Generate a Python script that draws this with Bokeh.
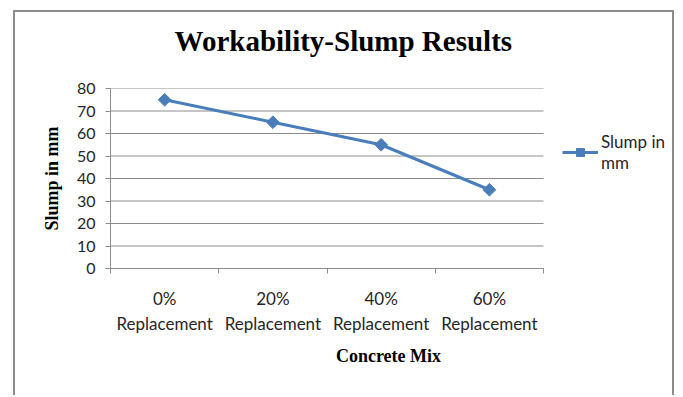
import math
from bokeh.plotting import figure
from bokeh.models import Range1d, FixedTicker, Legend, LegendItem, Title
from bokeh.embed import file_html
from bokeh.resources import INLINE

categories = ["0%\nReplacement", "20%\nReplacement", "40%\nReplacement", "60%\nReplacement"]
slump_mm = [75, 65, 55, 35]
y_ticks = [0, 10, 20, 30, 40, 50, 60, 70, 80]

n = len(categories)
xs = [i + 0.5 for i in range(n)]
bounds = list(range(n + 1))

BLUE = "#4a7ebb"
GRID = "#8c8c8c"

# layout (pixels)
W, H = 661, 385
LEFT, RIGHT_PAD, TOP, BOTTOM = 95, 10, 75, 129
PLOT_W = 433                     # width of the category area inside the frame
FRAME_W = W - LEFT - RIGHT_PAD
x_end = n * FRAME_W / PLOT_W     # extra room on the right holds the legend

p = figure(width=W, height=H, output_backend="svg", toolbar_location=None, title=None,
           x_range=Range1d(0, x_end), y_range=Range1d(0, 80),
           min_border_left=LEFT, min_border_right=RIGHT_PAD,
           min_border_top=TOP, min_border_bottom=BOTTOM)
p.styles = {"border-left": "2px solid #8c8c8c", "border-top": "2px solid #8c8c8c",
            "border-right": "2px solid #8c8c8c", "margin-left": "13px", "margin-top": "10px"}

# spacer between title and plot area, then the title itself
p.add_layout(Title(text=" ", text_font_size="1px", standoff=19), "above")
p.add_layout(Title(text="Workability-Slump Results", align="left", offset=64,
                   text_font="Liberation Serif", text_font_size="29px",
                   text_font_style="bold", text_color="black", standoff=20), "above")

p.outline_line_color = None
p.background_fill_color = "white"
p.border_fill_color = "white"

# horizontal gridlines limited to the category area
p.xgrid.grid_line_color = None
p.ygrid.grid_line_color = None
p.segment(x0=[0] * len(y_ticks), x1=[n] * len(y_ticks), y0=y_ticks, y1=y_ticks,
          line_color=GRID, line_width=1)

# y axis
p.yaxis.ticker = FixedTicker(ticks=y_ticks)
p.yaxis.axis_line_color = GRID
p.yaxis.major_tick_line_color = GRID
p.yaxis.major_tick_out = 5
p.yaxis.major_tick_in = 0
p.yaxis.minor_tick_line_color = None
p.yaxis.major_label_text_font = "Lato"
p.yaxis.major_label_text_font_size = "16px"
p.yaxis.major_label_text_color = "#262626"
p.yaxis.major_label_standoff = 10
p.yaxis.axis_label = "Slump in mm"
p.yaxis.axis_label_text_font = "Liberation Serif"
p.yaxis.axis_label_text_font_size = "18px"
p.yaxis.axis_label_text_font_style = "bold"
p.yaxis.axis_label_text_color = "black"
p.yaxis.axis_label_standoff = 12

# x axis
p.xaxis.bounds = (0, n)
p.xaxis.ticker = FixedTicker(ticks=xs, minor_ticks=bounds)
p.xaxis.major_label_overrides = {x: c for x, c in zip(xs, categories)}
p.xaxis.axis_line_color = GRID
p.xaxis.major_tick_line_color = None
p.xaxis.minor_tick_line_color = GRID
p.xaxis.minor_tick_out = 5
p.xaxis.minor_tick_in = 0
p.xaxis.major_label_text_font = "Lato"
p.xaxis.major_label_text_font_size = "17px"
p.xaxis.major_label_text_color = "#262626"
p.xaxis.major_label_standoff = 13
p.xaxis.axis_label = "Concrete Mix"
p.xaxis.axis_label_text_font = "Liberation Serif"
p.xaxis.axis_label_text_font_size = "18px"
p.xaxis.axis_label_text_font_style = "bold"
p.xaxis.axis_label_text_color = "black"
p.xaxis.axis_label_standoff = 9

line = p.line(xs, slump_mm, line_color=BLUE, line_width=3)
pts = p.scatter(xs, slump_mm, marker="square", angle=math.pi / 4, size=9,
                fill_color=BLUE, line_color=BLUE)

legend = Legend(items=[LegendItem(label="Slump in\nmm", renderers=[line, pts])],
                location=(452, 95), glyph_width=36, glyph_height=20, label_standoff=3,
                padding=0, margin=0, border_line_color=None, background_fill_alpha=0,
                label_text_font="Lato", label_text_font_size="17px", label_text_color="#262626")
p.add_layout(legend, "center")

open("out.html", "w").write(file_html(p, INLINE))
